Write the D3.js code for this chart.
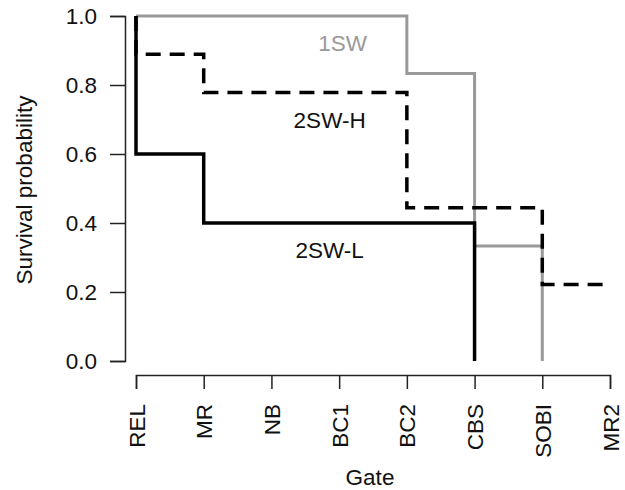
<!DOCTYPE html>
<html><head><meta charset="utf-8">
<script src="https://cdn.jsdelivr.net/npm/d3@7"></script>
<style>
body{margin:0;background:#fff;}
svg{display:block;font-family:"Liberation Sans",Arial,sans-serif;}
</style></head>
<body><svg id="c" width="625" height="490"></svg>
<script>
const gates = ["REL","MR","NB","BC1","BC2","CBS","SOBI","MR2"];
const yTicks = [0, 0.2, 0.4, 0.6, 0.8, 1.0];
// step points: gate where survival changes, and survival from that gate on
const sw1Gate = ["REL","BC2","CBS","SOBI"];
const sw1Surv = [1.0, 0.833, 0.333, 0.0];
const sw2hGate = ["REL","REL","MR","BC2","SOBI","MR2"];
const sw2hSurv = [1.0, 0.889, 0.778, 0.444, 0.222, 0.222];
const sw2lGate = ["REL","REL","MR","CBS"];
const sw2lSurv = [1.0, 0.6, 0.4, 0.0];
const seriesNames = ["1SW","2SW-H","2SW-L"];
const labelGate = [3.05, 2.86, 2.86];   // label centre, in gate-index units
const labelSurv = [0.90, 0.675, 0.30];

const svg = d3.select("#c");
const x = d3.scalePoint().domain(gates).range([136, 610]);
const xi = d3.scaleLinear().domain([0, gates.length-1]).range([136, 610]);
const y = d3.scaleLinear().domain([0, 1]).range([361, 16]);

const fs = "22.5px";
const ink = "#111";
// y axis
const ya = svg.append("g").attr("transform","translate(125,0)")
  .call(d3.axisLeft(y).tickValues(yTicks).tickFormat(d3.format(".1f")).tickSizeOuter(0).tickSize(15).tickPadding(13));
ya.selectAll("text").style("font-size",fs).attr("fill",ink).attr("font-family","Liberation Sans, Arial, sans-serif");
ya.selectAll("line,path").attr("stroke","#222").attr("stroke-width",1.5);

// x axis
const xa = svg.append("g").attr("transform","translate(0,375)")
  .call(d3.axisBottom(x).tickSizeOuter(0).tickSize(14).tickPadding(0));
xa.selectAll("line,path").attr("stroke","#222").attr("stroke-width",1.5);
xa.selectAll("text").style("font-size",fs).attr("fill",ink).attr("font-family","Liberation Sans, Arial, sans-serif")
  .attr("text-anchor","end").attr("dy",null)
  .attr("transform","translate(8,29) rotate(-90)").attr("x",0).attr("y",0);

// axis titles
svg.append("text").attr("x",370).attr("y",485).attr("text-anchor","middle")
  .style("font-size",fs).attr("fill",ink).text("Gate");
svg.append("text").attr("transform","translate(32,190) rotate(-90)").attr("text-anchor","middle")
  .style("font-size",fs).attr("fill",ink).text("Survival probability");

const line = d3.line().x(d=>x(d[0])).y(d=>y(d[1])).curve(d3.curveStepAfter);
const mk = (g,s)=>g.map((v,i)=>[v,s[i]]);

svg.append("path").attr("d",line(mk(sw1Gate,sw1Surv))).attr("fill","none")
  .attr("stroke","#999").attr("stroke-width",3);
svg.append("path").attr("d",line(mk(sw2lGate,sw2lSurv))).attr("fill","none")
  .attr("stroke","#000").attr("stroke-width",3.5);
svg.append("path").attr("d",line(mk(sw2hGate,sw2hSurv))).attr("fill","none")
  .attr("stroke","#000").attr("stroke-width",3.5).attr("stroke-dasharray","15,9");

const labColors = ["#999",ink,ink];
seriesNames.forEach((n,i)=>{
  svg.append("text").attr("x",xi(labelGate[i])).attr("y",y(labelSurv[i]))
    .attr("text-anchor","middle").style("font-size",fs).attr("fill",labColors[i]).text(n);
});
</script></body></html>
